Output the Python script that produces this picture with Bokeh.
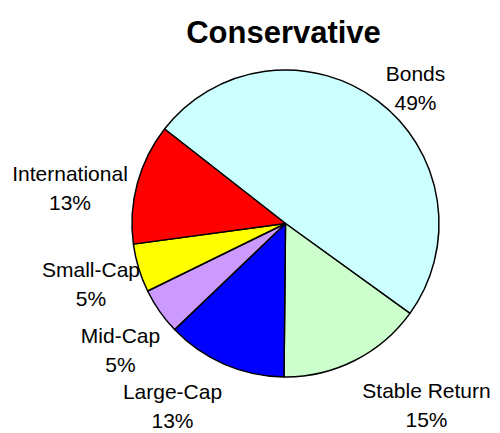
import math
from bokeh.plotting import figure
from bokeh.models import ColumnDataSource, Label
from bokeh.core.properties import value
from bokeh.embed import file_html
from bokeh.resources import INLINE

# ---- data ----
categories = ["Bonds", "Stable Return", "Large-Cap", "Mid-Cap", "Small-Cap", "International"]
shares = [49.4, 15.2, 12.7, 4.9, 5.1, 12.7]
colors = ["#CCFFFF", "#CCFFCC", "#0000FF", "#CC99FF", "#FFFF00", "#FF0000"]
title_text = "Conservative"

# ---- layout (pixel space, y measured from top) ----
W, H = 500, 433
cx, cy, radius = 285, 223, 153.5
start_deg = 142.0  # standard angle where the first slice begins, drawn clockwise
label_pos = {  # centre x, baseline of first line
    "Bonds": (415, 72.7),
    "Stable Return": (426, 389.5),
    "Large-Cap": (172, 391),
    "Mid-Cap": (120, 335),
    "Small-Cap": (90.5, 269.3),
    "International": (69.5, 172.7),
}
line_gap = 29
FONT = "Liberation Sans"

total = sum(shares)
starts, ends = [], []
a = math.radians(start_deg)
for v in shares:
    starts.append(a)
    a = a - v / total * 2 * math.pi
    ends.append(a)

src = ColumnDataSource(dict(cat=categories, val=shares, color=colors,
                            start=starts, end=ends))

p = figure(width=W, height=H, x_range=(0, W), y_range=(0, H),
           output_backend="svg", toolbar_location=None, min_border=0)
p.axis.visible = False
p.grid.visible = False
p.outline_line_color = None
p.background_fill_color = "white"
p.border_fill_color = "white"

p.wedge(x=cx, y=H - cy, radius=radius, start_angle="start", end_angle="end",
        direction="clock", fill_color="color", line_color="black",
        line_width=1.5, source=src)

for cat, v in zip(categories, shares):
    lx, ly = label_pos[cat]
    for i, txt in enumerate([cat, f"{round(v / total * 100)}%"]):
        p.add_layout(Label(x=lx, y=H - (ly + i * line_gap), text=txt,
                           text_align="center", text_baseline="alphabetic",
                           text_font=FONT, text_font_size="21px",
                           text_color="black"))

p.add_layout(Label(x=283, y=H - 31.7, text=title_text, text_align="center",
                   text_baseline="alphabetic", text_font=FONT,
                   text_font_size="31px", text_font_style="bold",
                   text_color="black"))

open("out.html", "w").write(file_html(p, INLINE))
